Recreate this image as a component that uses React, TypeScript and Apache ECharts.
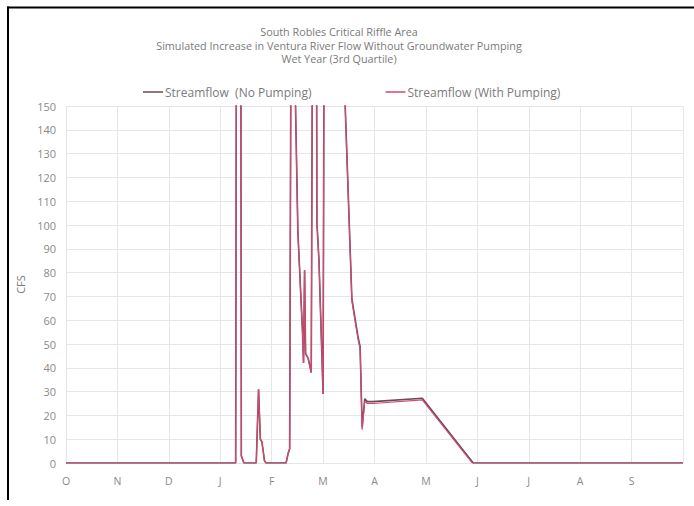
import React, { useEffect, useRef } from "react";
import * as echarts from "echarts";

const titleLines = [
  "South Robles Critical Riffle Area",
  "Simulated Increase in Ventura River Flow Without Groundwater Pumping",
  "Wet Year (3rd Quartile)",
];
const monthLabels = ["O", "N", "D", "J", "F", "M", "A", "M", "J", "J", "A", "S"];
const seriesNames = ["Streamflow  (No Pumping)", "Streamflow (With Pumping)"];

// x = months since Oct 1, y = CFS
const withPumping: [number, number][] = [
  [0, 0], [3.27, 0], [3.30, 0], [3.33, 400], [3.39, 400], [3.41, 3], [3.46, 0],
  [3.70, 0], [3.745, 31], [3.78, 10], [3.81, 9], [3.86, 1], [3.89, 0],
  [4.28, 0], [4.32, 4], [4.35, 6], [4.40, 350], [4.44, 350], [4.455, 160],
  [4.51, 97], [4.60, 55], [4.62, 42], [4.64, 81], [4.66, 46], [4.71, 44],
  [4.77, 38], [4.82, 350], [4.86, 300], [4.88, 101], [4.92, 85], [5.0, 29],
  [5.04, 350], [5.3, 400], [5.40, 170], [5.43, 150], [5.56, 68], [5.68, 52],
  [5.72, 48], [5.76, 14], [5.81, 26], [5.86, 25], [5.97, 25], [6.93, 26.5],
  [7.90, 0], [12, 0],
];
const noPumping: [number, number][] = [
  [0, 0], [3.27, 0], [3.30, 0], [3.33, 400], [3.39, 400], [3.41, 3], [3.46, 0],
  [3.70, 0], [3.745, 31], [3.78, 10], [3.81, 9], [3.86, 1], [3.89, 0],
  [4.28, 0], [4.32, 4], [4.35, 6], [4.40, 350], [4.44, 350], [4.455, 160],
  [4.51, 97], [4.60, 55], [4.62, 42], [4.64, 81], [4.66, 46], [4.71, 44],
  [4.77, 38], [4.82, 350], [4.86, 300], [4.88, 101], [4.92, 85], [5.0, 29],
  [5.04, 350], [5.3, 400], [5.40, 170], [5.43, 150], [5.56, 69], [5.68, 53],
  [5.72, 49], [5.76, 15], [5.81, 27], [5.86, 25.8], [5.97, 25.8], [6.93, 27.2],
  [7.92, 0], [12, 0],
];

const darkColor = "#6b4a55";
const pinkColor = "#d04a72";

export default function App() {
  const ref = useRef<HTMLDivElement>(null);
  useEffect(() => {
    if (!ref.current) return;
    const chart = echarts.init(ref.current, null, { renderer: "svg" });
    const font = "Open Sans";
    chart.setOption({
      animation: false,
      backgroundColor: "#ffffff",
      textStyle: { fontFamily: font },
      title: {
        text: titleLines.join("\n"),
        left: 334,
        textAlign: "center",
        top: 20,
        textStyle: { fontSize: 10.8, fontWeight: "normal", color: "#7a7a7a", lineHeight: 13.5, fontFamily: font },
      },
      legend: {
        left: 138,
        top: 81,
        itemGap: 74,
        itemWidth: 20,
        itemHeight: 1.5,
        icon: "rect",
        textStyle: { fontSize: 12, color: "#7a7a7a", fontFamily: font, padding: [0, 0, 0, -3] },
        data: seriesNames,
      },
      grid: { left: 66, right: 11, top: 106, bottom: 43 },
      xAxis: {
        type: "value",
        min: 0,
        max: 12,
        interval: 1,
        axisLine: { show: false },
        axisTick: { show: false },
        splitLine: { show: true, lineStyle: { color: "#e6e6e6", width: 1 } },
        axisLabel: {
          color: "#8a8a8a",
          fontSize: 10.5,
          margin: 12,
          formatter: (v: number) => monthLabels[Math.round(v)] ?? "",
        },
      },
      yAxis: {
        type: "value",
        min: 0,
        max: 150,
        interval: 10,
        name: "CFS",
        nameLocation: "middle",
        nameGap: 40,
        nameTextStyle: { color: "#7a7a7a", fontSize: 11 },
        axisLine: { show: false },
        axisTick: { show: false },
        splitLine: { lineStyle: { color: "#e6e6e6", width: 1 } },
        axisLabel: { color: "#8a8a8a", fontSize: 11, margin: 10 },
      },
      series: [
        {
          name: seriesNames[0],
          type: "line",
          data: noPumping,
          symbol: "none",
          clip: true,
          lineStyle: { color: darkColor, width: 1.6 },
          itemStyle: { color: darkColor },
        },
        {
          name: seriesNames[1],
          type: "line",
          data: withPumping,
          symbol: "none",
          clip: true,
          lineStyle: { color: pinkColor, width: 1.2 },
          itemStyle: { color: pinkColor },
        },
      ],
      graphic: [
        { type: "line", shape: { x1: 7, y1: 7.5, x2: 694, y2: 7.5 }, style: { stroke: "#000", lineWidth: 2 } },
        { type: "line", shape: { x1: 8, y1: 6.5, x2: 8, y2: 500 }, style: { stroke: "#000", lineWidth: 2 } },
      ],
    });
    return () => chart.dispose();
  }, []);
  return (
    <div
      ref={ref}
      style={{ position: "fixed", left: 0, top: 0, width: 694, height: 506 }}
    />
  );
}
